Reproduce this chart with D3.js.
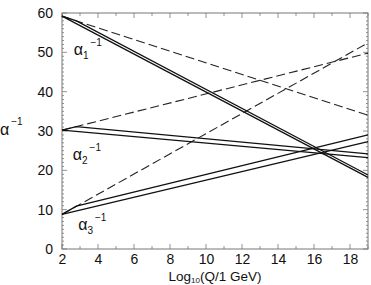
<!DOCTYPE html>
<html>
<head>
<meta charset="utf-8">
<script src="https://cdn.jsdelivr.net/npm/d3@7"></script>
<style>
  body { margin: 0; background: #fff; }
  svg { display: block; }
  text { font-family: "Liberation Sans", Arial, sans-serif; fill: #111; }
</style>
</head>
<body>
<div id="visualization"></div>
<script>
// axis setup
const xDomain = [2, 19];
const yDomain = [0, 60];
const xTicks = [2, 4, 6, 8, 10, 12, 14, 16, 18];
const yTicks = [0, 10, 20, 30, 40, 50, 60];

// one-loop SM running (dashed)
const smAlpha1 = [[2, 59.2], [19, 34.0]];
const smAlpha2 = [[2, 30.2], [19, 49.8]];
const smAlpha3 = [[2, 8.8], [19, 52.4]];

// MSSM running, SUSY threshold at the low end
const susyLowAlpha1 = [[2, 59.2], [19, 18.2]];
const susyLowAlpha2 = [[2, 30.2], [19, 23.2]];
const susyLowAlpha3 = [[2, 8.8], [19, 27.3]];

// MSSM running, SUSY threshold a bit higher
const susyHighAlpha1 = [[2, 59.2], [2.8, 58.0], [19, 18.8]];
const susyHighAlpha2 = [[2, 30.2], [2.8, 31.1], [19, 24.2]];
const susyHighAlpha3 = [[2, 8.8], [2.8, 10.9], [19, 29.0]];

// curve labels: [x, y, subscript]
const curveLabels = [[2.65, 49.4, "1"], [2.6, 22.6, "2"], [2.9, 4.8, "3"]];

const width = 371, height = 285;
const margin = { left: 62, right: 3, top: 13, bottom: 36 };

const svg = d3.select("#visualization")
    .append("svg")
    .attr("width", width)
    .attr("height", height);

const xScale = d3.scaleLinear()
    .domain(xDomain)
    .range([margin.left, width - margin.right]);

const yScale = d3.scaleLinear()
    .domain(yDomain)
    .range([height - margin.bottom, margin.top]);

const x0 = xScale.range()[0], x1 = xScale.range()[1];
const y0 = yScale.range()[0], y1 = yScale.range()[1];

// minor ticks, all four sides, pointing inward
const axisColor = "#777";
const minorX = d3.range(xDomain[0], xDomain[1] + 1, 1);
const minorY = d3.range(yDomain[0], yDomain[1] + 1, 1);

const tickG = svg.append("g").attr("stroke", axisColor).attr("stroke-width", 0.8);

minorX.forEach(v => {
    const len = v % 2 === 0 ? 5 : 3;
    tickG.append("line").attr("x1", xScale(v)).attr("x2", xScale(v))
        .attr("y1", y0).attr("y2", y0 - len);
    tickG.append("line").attr("x1", xScale(v)).attr("x2", xScale(v))
        .attr("y1", y1).attr("y2", y1 + len);
});

minorY.forEach(v => {
    const len = v % 10 === 0 ? 5 : 2;
    tickG.append("line").attr("x1", x0).attr("x2", x0 + len)
        .attr("y1", yScale(v)).attr("y2", yScale(v));
    tickG.append("line").attr("x1", x1).attr("x2", x1 - len)
        .attr("y1", yScale(v)).attr("y2", yScale(v));
});

// frame
svg.append("rect")
    .attr("x", x0).attr("y", y1)
    .attr("width", x1 - x0).attr("height", y0 - y1)
    .attr("fill", "none")
    .attr("stroke", axisColor)
    .attr("stroke-width", 1);

// tick labels through d3 axes (lines hidden)
const xAxis = svg.append("g")
    .attr("transform", `translate(0,${y0})`)
    .call(d3.axisBottom(xScale).tickValues(xTicks).tickSize(0).tickPadding(5));
xAxis.select(".domain").remove();
xAxis.selectAll("text").attr("font-size", 14).attr("font-family", "Liberation Sans, Arial, sans-serif").attr("fill", "#111");

const yAxis = svg.append("g")
    .attr("transform", `translate(${x0},0)`)
    .call(d3.axisLeft(yScale).tickValues(yTicks).tickSize(0).tickPadding(9));
yAxis.select(".domain").remove();
yAxis.selectAll("text").attr("font-size", 14).attr("font-family", "Liberation Sans, Arial, sans-serif").attr("fill", "#111");

// curves
const line = d3.line()
    .x(d => xScale(d[0]))
    .y(d => yScale(d[1]));

const plot = svg.append("g");

[smAlpha1, smAlpha2, smAlpha3].forEach(pts => {
    plot.append("path")
        .attr("d", line(pts))
        .attr("fill", "none")
        .attr("stroke", "#222")
        .attr("stroke-width", 1.1)
        .attr("stroke-dasharray", "9,4");
});

[susyLowAlpha1, susyLowAlpha2, susyLowAlpha3,
 susyHighAlpha1, susyHighAlpha2, susyHighAlpha3].forEach(pts => {
    plot.append("path")
        .attr("d", line(pts))
        .attr("fill", "none")
        .attr("stroke", "#111")
        .attr("stroke-width", 1.25);
});

// curve labels: alpha_i^-1
curveLabels.forEach(d => {
    const t = svg.append("text")
        .attr("x", xScale(d[0]))
        .attr("y", yScale(d[1]))
        .attr("font-family", "Liberation Serif, Times New Roman, serif")
        .attr("font-size", 16);
    t.append("tspan").text("α");
    t.append("tspan").attr("dy", 4).attr("font-size", 10)
        .attr("font-family", "Liberation Sans, Arial, sans-serif").text(d[2]);
    t.append("tspan").attr("dy", -13).attr("dx", 2).attr("font-size", 10)
        .attr("font-family", "Liberation Sans, Arial, sans-serif").text("−1");
});

// y axis title
const yt = svg.append("text")
    .attr("x", 0)
    .attr("y", 135)
    .attr("font-family", "Liberation Serif, Times New Roman, serif")
    .attr("font-size", 16);
yt.append("tspan").text("α");
yt.append("tspan").attr("dy", -10).attr("dx", 2).attr("font-size", 10)
    .attr("font-family", "Liberation Sans, Arial, sans-serif").text("−1");

// x axis title
const xt = svg.append("text")
    .attr("x", (x0 + x1) / 2)
    .attr("y", 281)
    .attr("text-anchor", "middle")
    .attr("font-size", 13.5);
xt.append("tspan").text("Log");
xt.append("tspan").attr("dy", 2).attr("font-size", 8).text("10");
xt.append("tspan").attr("dy", -2).text("(Q/1 GeV)");
</script>
</body>
</html>
